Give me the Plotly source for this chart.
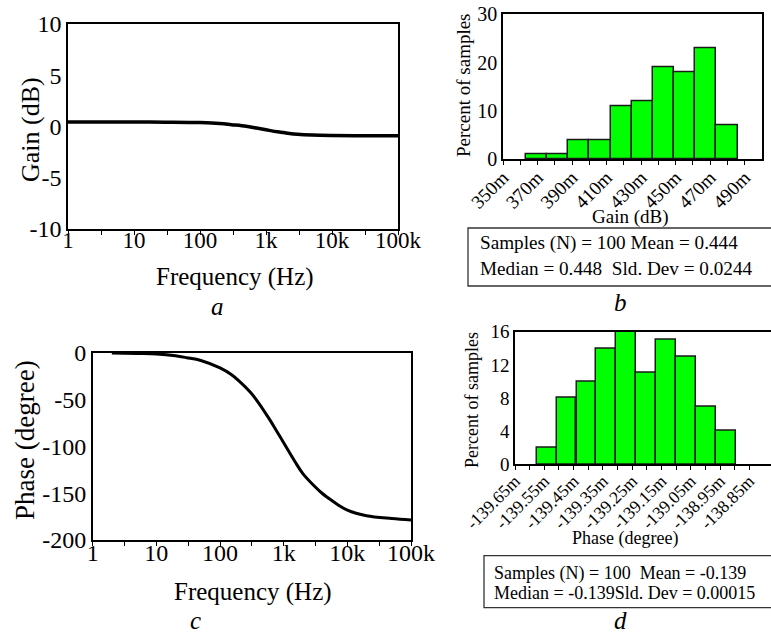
import plotly.graph_objects as go

# ---------------- data ----------------
freq_gain = [1, 3, 10, 30, 100, 200, 300, 500, 700, 1000, 1500, 2000, 3000, 5000, 10000, 30000, 100000]
gain_db = [0.45, 0.45, 0.44, 0.42, 0.38, 0.30, 0.18, 0.02, -0.14, -0.32, -0.52, -0.63, -0.76, -0.84, -0.88, -0.90, -0.90]

freq_phase = [2, 5, 10, 20, 30, 50, 100, 150, 200, 300, 400, 600, 800, 1000, 1500, 2000,
              3000, 4000, 5000, 7000, 10000, 20000, 50000, 100000]
phase_deg = [0, -0.5, -1, -3, -5, -8, -16, -23, -30, -42, -53, -71, -85, -96, -116, -129,
             -142, -150, -155, -162, -168, -174, -177, -178.5]

gain_bin_centers = [0.3694, 0.3817, 0.3939, 0.4062, 0.4184, 0.4307, 0.4429, 0.4552, 0.4674, 0.4797]
gain_bin_width = 0.01225
gain_pct = [1, 1, 4, 4, 11, 12, 19, 18, 23, 7]

phase_bin_centers = [-0.139542, -0.139474, -0.139406, -0.139338, -0.139270,
                     -0.139202, -0.139134, -0.139066, -0.138998, -0.138930]
phase_bin_width = 0.0000676
phase_pct = [2, 8, 10, 14, 16, 11, 15, 13, 7, 4]

freq_tickvals = [1, 3.162, 10, 31.62, 100, 316.2, 1000, 3162, 10000, 31620, 100000]
freq_ticktext = ["1", "", "10", "", "100", "", "1k", "", "10k", "", "100k"]

gain_tickvals = [-10, -5, 0, 5, 10]
gain_ticktext = ["-10", "-5", "0", "5", "10"]
phase_tickvals = [-200, -150, -100, -50, 0]
phase_ticktext = ["-200", "-150", "-100", "-50", "0"]

gain_hist_tickvals = [0.35, 0.36, 0.37, 0.38, 0.39, 0.40, 0.41, 0.42, 0.43, 0.44, 0.45, 0.46, 0.47, 0.48, 0.49]
gain_hist_ticktext = ["350m", "", "370m", "", "390m", "", "410m", "", "430m", "", "450m", "", "470m", "", "490m"]

phase_hist_tickvals = [-0.13965, -0.1396, -0.13955, -0.1395, -0.13945, -0.1394, -0.13935, -0.1393, -0.13925,
                       -0.1392, -0.13915, -0.1391, -0.13905, -0.139, -0.13895, -0.1389, -0.13885]
phase_hist_ticktext = ["-139.65m", "", "-139.55m", "", "-139.45m", "", "-139.35m", "", "-139.25m",
                       "", "-139.15m", "", "-139.05m", "", "-138.95m", "", "-138.85m"]

stats_b = ["Samples (N) = 100 Mean = 0.444", "Median = 0.448\u00a0 Sld. Dev = 0.0244"]
stats_d = ["Samples (N) = 100\u00a0 Mean = -0.139", "Median = -0.139Sld. Dev = 0.00015"]

# ---------------- layout helpers ----------------
W, H = 771, 636
FONT = "Liberation Serif"


def X(px):
    return px / W


def Y(py):
    return 1 - py / H


fig = go.Figure()

fig.add_trace(go.Scatter(x=freq_gain, y=gain_db, mode="lines",
                         line=dict(color="black", width=3.5, shape="spline"),
                         xaxis="x", yaxis="y", showlegend=False))
fig.add_trace(go.Bar(x=gain_bin_centers, y=gain_pct, width=gain_bin_width,
                     marker=dict(color="#00ff00", line=dict(color="#1a1a1a", width=1.5)),
                     xaxis="x2", yaxis="y2", showlegend=False))
fig.add_trace(go.Scatter(x=freq_phase, y=phase_deg, mode="lines",
                         line=dict(color="black", width=3, shape="spline"),
                         xaxis="x3", yaxis="y3", showlegend=False))
fig.add_trace(go.Bar(x=phase_bin_centers, y=phase_pct, width=phase_bin_width,
                     marker=dict(color="#00ff00", line=dict(color="#1a1a1a", width=1.5)),
                     xaxis="x4", yaxis="y4", showlegend=False))

axis_common = dict(showline=True, linecolor="black", linewidth=1.5, mirror=True,
                   showgrid=False, zeroline=False, ticks="outside", tickcolor="black",
                   tickwidth=1.2, ticklen=4, automargin=False)

fig.update_layout(
    width=W, height=H, margin=dict(l=0, r=0, t=0, b=0, autoexpand=False),
    paper_bgcolor="white", plot_bgcolor="white", bargap=0,
    font=dict(family=FONT, color="black"),
    xaxis=dict(axis_common, domain=[X(68), X(398)], anchor="y", type="log", range=[0, 5],
               tickmode="array", tickvals=freq_tickvals, ticktext=freq_ticktext,
               ticklabelstandoff=-14, tickfont=dict(size=23, family=FONT)),
    yaxis=dict(axis_common, domain=[Y(229), Y(24)], anchor="x", range=[-10, 10],
               tickmode="array", tickvals=gain_tickvals, ticktext=gain_ticktext,
               ticklen=0, tickfont=dict(size=24, family=FONT)),
    xaxis2=dict(axis_common, domain=[X(503), X(762)], anchor="y2", range=[0.35, 0.50],
                tickmode="array", tickvals=gain_hist_tickvals, ticktext=gain_hist_ticktext,
                ticklabelstandoff=-6, tickangle=-45, tickfont=dict(size=19, family=FONT)),
    yaxis2=dict(axis_common, domain=[Y(159.3), Y(14.3)], anchor="x2", range=[0, 30],
                tickvals=[0, 10, 20, 30], ticklen=0, tickfont=dict(size=20, family=FONT)),
    xaxis3=dict(axis_common, domain=[X(92.7), X(411)], anchor="y3", type="log", range=[0, 5],
                tickmode="array", tickvals=freq_tickvals, ticktext=freq_ticktext,
                ticklabelstandoff=-14, tickfont=dict(size=24, family=FONT)),
    yaxis3=dict(axis_common, domain=[Y(540), Y(353)], anchor="x3", range=[-200, 0],
                tickmode="array", tickvals=phase_tickvals, ticktext=phase_ticktext,
                ticklen=0, tickfont=dict(size=24, family=FONT)),
    xaxis4=dict(axis_common, domain=[X(515), 1.0], anchor="y4", range=[-0.13965, -0.138776],
                tickmode="array", tickvals=phase_hist_tickvals, ticktext=phase_hist_ticktext,
                ticklabelstandoff=-6, tickangle=-45, tickfont=dict(size=17.5, family=FONT)),
    yaxis4=dict(axis_common, domain=[Y(464.3), Y(331.7)], anchor="x4", range=[0, 16],
                tickvals=[0, 4, 8, 12, 16], ticklen=0, tickfont=dict(size=19, family=FONT)),
)


def ann(text, px, py, size, angle=0, xanchor="center", italic=False, yanchor="middle"):
    fig.add_annotation(text=text, x=X(px), y=Y(py), xref="paper", yref="paper",
                       showarrow=False, textangle=angle, xanchor=xanchor, yanchor=yanchor,
                       font=dict(family=FONT, size=size, color="black",
                                 style="italic" if italic else "normal"))


# panel a
ann("Gain (dB)", 30, 130, 26, angle=-90)
ann("Frequency (Hz)", 235, 277, 25)
ann("a", 217, 306, 25, italic=True)
# panel b
ann("Percent of samples", 463, 85, 19, angle=-90)
ann("Gain (dB)", 630, 217, 19)
ann(stats_b[0], 478, 243, 19.2, xanchor="left")
ann(stats_b[1], 478, 268, 19.2, xanchor="left")
ann("b", 620, 302, 25, italic=True)
# panel c
ann("Phase (degree)", 25, 440, 27, angle=-90)
ann("Frequency (Hz)", 253, 592, 25)
ann("c", 195, 636, 25, italic=True, yanchor="bottom")
# panel d
ann("Percent of samples", 472, 400, 18, angle=-90)
ann("Phase (degree)", 625, 538, 18)
ann(stats_d[0], 492, 573, 18, xanchor="left")
ann(stats_d[1], 492, 593, 18, xanchor="left")
ann("d", 620, 620, 25, italic=True)

# stats boxes
fig.add_shape(type="rect", xref="paper", yref="paper", x0=X(468), x1=1.01, y0=Y(286), y1=Y(228),
              line=dict(color="#333333", width=1.3), fillcolor="rgba(0,0,0,0)")
fig.add_shape(type="rect", xref="paper", yref="paper", x0=X(484), x1=1.01, y0=Y(607.7), y1=Y(555.7),
              line=dict(color="#333333", width=1.3), fillcolor="rgba(0,0,0,0)")

fig.write_html("out.html", config={"displayModeBar": False},
               post_script="document.body.style.margin='0px';")
